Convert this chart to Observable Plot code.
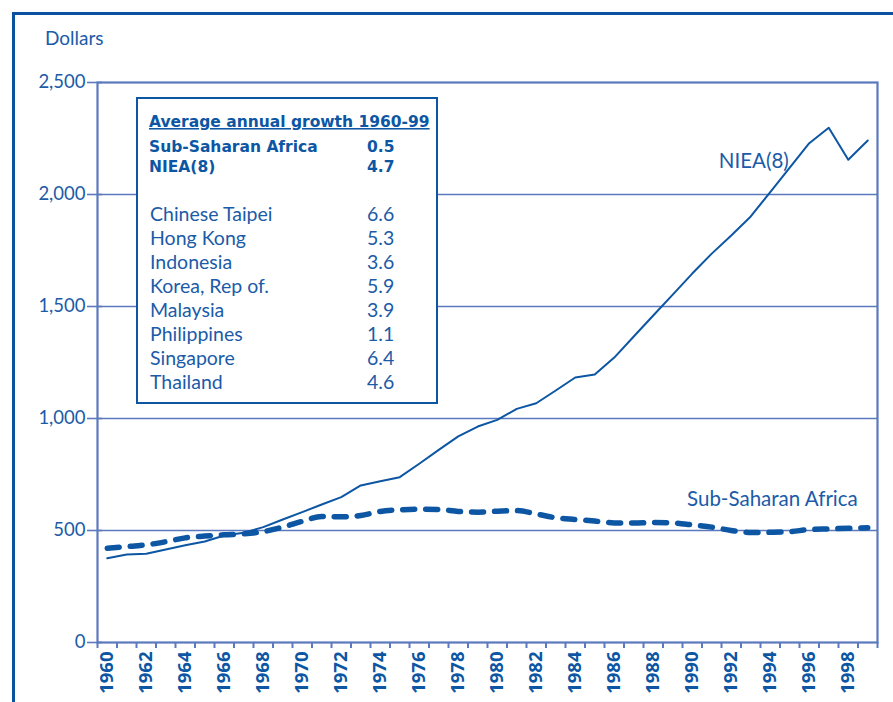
<!DOCTYPE html>
<html>
<head>
<meta charset="utf-8">
<script src="https://cdn.jsdelivr.net/npm/d3@7"></script>
<script src="https://cdn.jsdelivr.net/npm/@observablehq/plot@0.6"></script>
<style>
  html, body { margin: 0; padding: 0; background: #fff; }
  #wrap { position: relative; width: 893px; height: 702px; overflow: hidden; }
  #wrap > svg { position: absolute; left: 0; top: 0; }
</style>
</head>
<body>
<div id="wrap"></div>
<script>
// ---- data ----
const years = [1960,1961,1962,1963,1964,1965,1966,1967,1968,1969,
               1970,1971,1972,1973,1974,1975,1976,1977,1978,1979,
               1980,1981,1982,1983,1984,1985,1986,1987,1988,1989,
               1990,1991,1992,1993,1994,1995,1996,1997,1998,1999];
const nieaValues = [376,393,396,415,434,451,478,490,515,549,
                    582,616,649,701,720,738,798,860,920,964,
                    994,1043,1068,1125,1183,1196,1272,1366,1460,1553,
                    1647,1736,1817,1902,2011,2120,2229,2298,2155,2241];
const ssaValues = [421,428,436,450,467,475,481,485,495,515,
                   541,562,561,567,585,592,595,594,585,582,
                   586,589,574,557,549,542,534,533,536,534,
                   525,515,500,491,492,495,504,507,510,512];
const yTickValues = [0,500,1000,1500,2000,2500];
const gridValues = [500,1000,1500,2000];
const yearLabels = [1960,1962,1964,1966,1968,1970,1972,1974,1976,1978,
                    1980,1982,1984,1986,1988,1990,1992,1994,1996,1998];
const yAxisTitle = "Dollars";
const seriesLabels = ["NIEA(8)", "Sub-Saharan Africa"];
const boxTitle = "Average annual growth 1960-99";
const regionNames = ["Sub-Saharan Africa", "NIEA(8)"];
const regionGrowth = ["0.5", "4.7"];
const countryNames = ["Chinese Taipei","Hong Kong","Indonesia","Korea, Rep of.","Malaysia","Philippines","Singapore","Thailand"];
const countryGrowth = ["6.6","5.3","3.6","5.9","3.9","1.1","6.4","4.6"];

// ---- styles ----
const lineC = "#0c56a3";
const textC = "#1b5ba8";
const axisC = "#5b79bd";
const frameC = "#0a529f";
const boldFont = "DejaVu Sans, sans-serif";

const niea = years.map((y, i) => ({year: y, value: nieaValues[i]}));
const ssa = years.map((y, i) => ({year: y, value: ssaValues[i]}));
const tickEdges = d3.range(years[0] - 0.5, years[years.length - 1] + 1, 1);

const chart = Plot.plot({
  width: 893,
  height: 702,
  marginLeft: 97,
  marginRight: 16,
  marginTop: 82,
  marginBottom: 60,
  style: {fontFamily: "Lato, sans-serif", background: "transparent", overflow: "visible"},
  x: {domain: [years[0] - 0.5, years[years.length - 1] + 0.5]},
  y: {domain: [0, 2500]},
  marks: [
    Plot.ruleY(gridValues, {stroke: axisC, strokeWidth: 1.3}),
    Plot.frame({stroke: axisC, strokeWidth: 2.2}),
    Plot.axisY(yTickValues, {tickSize: 15, dx: 5, tickPadding: 2, tickFormat: d3.format(","),
      stroke: axisC, strokeWidth: 1.6, fontSize: 18.5, fill: textC, label: null}),
    Plot.axisX(tickEdges, {tickSize: 6, tickFormat: () => "", stroke: axisC, strokeWidth: 2, label: null}),
    Plot.axisX(yearLabels, {tickSize: 0, tickPadding: 9, tickRotate: -90, tickFormat: d => String(d),
      fontWeight: "bold", fontSize: 18.5, fill: lineC, label: null, fontFamily: "Open Sans, sans-serif"}),
    Plot.line(ssa, {x: "year", y: "value", stroke: lineC, strokeWidth: 5.5, strokeDasharray: "12,11",
      strokeLinecap: "round", curve: "monotone-x"}),
    Plot.line(niea, {x: "year", y: "value", stroke: lineC, strokeWidth: 2}),
    Plot.text([niea[35]], {x: "year", y: "value", text: () => seriesLabels[0], textAnchor: "end",
      dx: -1, dy: -6, fontSize: 20.5, fill: textC}),
    Plot.text([ssa[39]], {x: "year", y: "value", text: () => seriesLabels[1], textAnchor: "end",
      dx: -10, dy: -28, fontSize: 20.5, fill: textC})
  ]
});
document.getElementById("wrap").appendChild(chart);

// ---- overlay: outer frame, axis title, growth box ----
const ov = d3.select("#wrap").append("svg")
  .attr("width", 893).attr("height", 702)
  .style("font-family", "Lato, sans-serif");

ov.append("line").attr("x1", 12).attr("x2", 893).attr("y1", 13.5).attr("y2", 13.5)
  .attr("stroke", frameC).attr("stroke-width", 3);
ov.append("line").attr("x1", 13.5).attr("x2", 13.5).attr("y1", 12).attr("y2", 702)
  .attr("stroke", frameC).attr("stroke-width", 3);

ov.append("text").attr("x", 45).attr("y", 45).attr("fill", textC).attr("font-size", 19).text(yAxisTitle);

ov.append("rect").attr("x", 137).attr("y", 98).attr("width", 300).attr("height", 305)
  .attr("fill", "white").attr("stroke", lineC).attr("stroke-width", 2);

ov.append("text").attr("x", 149).attr("y", 127).attr("fill", lineC)
  .attr("font-family", boldFont).attr("font-weight", "bold").attr("font-size", 15.5)
  .style("text-decoration", "underline").text(boxTitle);

regionNames.forEach((n, i) => {
  const y = 151.5 + i * 20.5;
  ov.append("text").attr("x", 149).attr("y", y).attr("fill", lineC)
    .attr("font-family", boldFont).attr("font-weight", "bold").attr("font-size", 15.5).text(n);
  ov.append("text").attr("x", 367).attr("y", y).attr("fill", lineC)
    .attr("font-family", boldFont).attr("font-weight", "bold").attr("font-size", 15.5).text(regionGrowth[i]);
});
countryNames.forEach((n, i) => {
  const y = 221 + i * 24;
  ov.append("text").attr("x", 150).attr("y", y).attr("fill", textC).attr("font-size", 19.5).text(n);
  ov.append("text").attr("x", 367).attr("y", y).attr("fill", textC).attr("font-size", 19.5).text(countryGrowth[i]);
});
</script>
</body>
</html>
